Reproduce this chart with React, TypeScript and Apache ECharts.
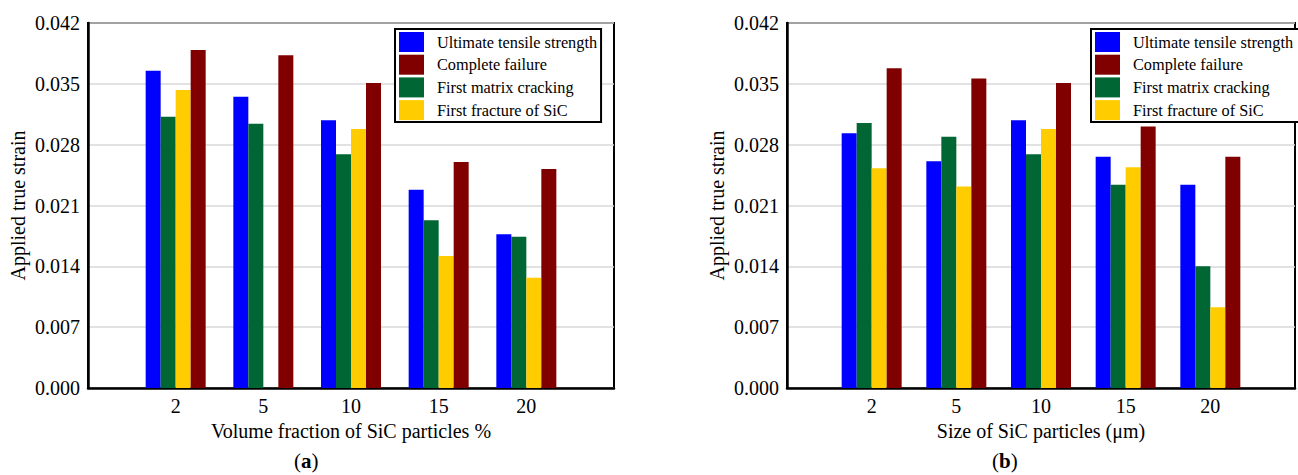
import React, { useEffect, useRef } from "react";
import * as echarts from "echarts";

const categories = ["", "2", "5", "10", "15", "20", ""];
const yTicks = { min: 0, max: 0.042, interval: 0.007 };

const legendNames = [
  "Ultimate tensile strength",
  "Complete failure",
  "First matrix cracking",
  "First fracture of SiC",
];

// Chart (a): volume fraction of SiC particles
const aUTS = [0.0365, 0.0335, 0.0308, 0.0228, 0.0177];
const aFMC = [0.0312, 0.0304, 0.0269, 0.0193, 0.0174];
const aFFS = [0.0343, null, 0.0298, 0.0152, 0.0127];
const aCF = [0.0389, 0.0383, 0.0351, 0.026, 0.0252];

// Chart (b): size of SiC particles
const bUTS = [0.0293, 0.0261, 0.0308, 0.0266, 0.0234];
const bFMC = [0.0305, 0.0289, 0.0269, 0.0234, 0.014];
const bFFS = [0.0253, 0.0232, 0.0298, 0.0254, 0.0093];
const bCF = [0.0368, 0.0356, 0.0351, 0.0301, 0.0266];

const colors: Record<string, string> = {
  "Ultimate tensile strength": "#0000ff",
  "Complete failure": "#800000",
  "First matrix cracking": "#006633",
  "First fracture of SiC": "#ffcc00",
};

const FONT = "'Liberation Serif', 'Times New Roman', serif";

const pad = (arr: (number | null)[]) => [null, ...arr, null];

export default function App() {
  const ref = useRef<HTMLDivElement>(null);
  useEffect(() => {
    if (!ref.current) return;
    const chart = echarts.init(ref.current, undefined, { renderer: "svg" });

    const mkX = (idx: number, name: string) => ({
      type: "category",
      gridIndex: idx,
      data: categories,
      boundaryGap: false,
      axisTick: { show: false },
      axisLine: { show: true, lineStyle: { color: "#000", width: 2.5 } },
      axisLabel: { color: "#000", fontFamily: FONT, fontSize: 20, margin: 8 },
      name,
      nameLocation: "middle",
      nameGap: 29,
      nameTextStyle: { color: "#000", fontFamily: FONT, fontSize: 20 },
    });
    const mkY = (idx: number) => ({
      type: "value",
      gridIndex: idx,
      min: yTicks.min,
      max: yTicks.max,
      interval: yTicks.interval,
      axisTick: { show: false },
      axisLine: { show: true, lineStyle: { color: "#000", width: 2.5 } },
      splitLine: { show: true, lineStyle: { color: "#d9d9d9", width: 1.5 } },
      axisLabel: {
        color: "#000",
        fontFamily: FONT,
        fontSize: 20,
        margin: 8,
        formatter: (v: number) => v.toFixed(3),
      },
      name: "Applied true strain",
      nameLocation: "middle",
      nameGap: 60,
      nameTextStyle: { color: "#000", fontFamily: FONT, fontSize: 20 },
    });

    const mkSeries = (idx: number, sets: [string, (number | null)[]][]) =>
      sets.map(([name, data]) => ({
        type: "bar",
        name,
        xAxisIndex: idx,
        yAxisIndex: idx,
        data: pad(data),
        barWidth: 15,
        barGap: "0%",
        itemStyle: { color: colors[name] },
      }));

    const mkLegend = (left: number, padRight: number) => ({
      data: legendNames,
      orient: "vertical",
      left,
      top: 29,
      backgroundColor: "#fff",
      borderColor: "#000",
      borderWidth: 2,
      padding: [3, padRight, 2, 4],
      itemGap: 2.7,
      itemWidth: 25,
      itemHeight: 20,
      icon: "rect",
      textStyle: { color: "#000", fontFamily: FONT, fontSize: 16.3, padding: [0, 0, 0, 8] },
    });

    chart.setOption({
      animation: false,
      backgroundColor: "#fff",
      textStyle: { fontFamily: FONT },
      grid: [
        { left: 88, right: 684, top: 23, bottom: 87, show: true, borderColor: "#000", borderWidth: 2 },
        { left: 787, right: -14, top: 23, bottom: 87, show: true, borderColor: "#000", borderWidth: 2 },
      ],
      xAxis: [
        mkX(0, "Volume fraction of SiC particles %"),
        mkX(1, "Size of SiC particles (\u03bcm)"),
      ],
      yAxis: [mkY(0), mkY(1)],
      legend: [mkLegend(395, 4), mkLegend(1091, 10)],
      series: [
        ...mkSeries(0, [
          ["Ultimate tensile strength", aUTS],
          ["First matrix cracking", aFMC],
          ["First fracture of SiC", aFFS],
          ["Complete failure", aCF],
        ]),
        ...mkSeries(1, [
          ["Ultimate tensile strength", bUTS],
          ["First matrix cracking", bFMC],
          ["First fracture of SiC", bFFS],
          ["Complete failure", bCF],
        ]),
      ],
      graphic: [
        {
          type: "text",
          left: 294,
          top: 450,
          style: {
            text: "({b|a})",
            fontFamily: FONT,
            fontSize: 21,
            fill: "#000",
            rich: { b: { fontFamily: FONT, fontSize: 21, fontWeight: "bold", fill: "#000" } },
          },
        },
        {
          type: "text",
          left: 992,
          top: 450,
          style: {
            text: "({b|b})",
            fontFamily: FONT,
            fontSize: 21,
            fill: "#000",
            rich: { b: { fontFamily: FONT, fontSize: 21, fontWeight: "bold", fill: "#000" } },
          },
        },
      ],
    });
    return () => chart.dispose();
  }, []);
  return (
    <div
      ref={ref}
      style={{ position: "absolute", left: 0, top: 0, width: 1298, height: 475 }}
    />
  );
}
